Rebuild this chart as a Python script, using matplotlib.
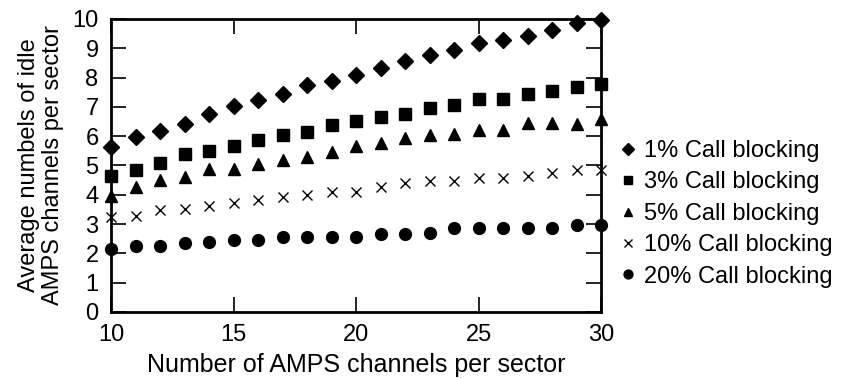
import matplotlib
matplotlib.use("Agg")
import matplotlib.pyplot as plt

plt.rcParams['font.family'] = ['Liberation Sans', 'DejaVu Sans']

# channels per sector
channels = list(range(10, 31))

# idle channels for each blocking level
block_1 = [5.62, 5.96, 6.19, 6.43, 6.77, 7.02, 7.25, 7.44, 7.75, 7.88, 8.08,
           8.32, 8.55, 8.77, 8.95, 9.19, 9.27, 9.43, 9.63, 9.85, 9.98]
block_3 = [4.65, 4.86, 5.09, 5.39, 5.48, 5.65, 5.88, 6.05, 6.15, 6.37, 6.50,
           6.66, 6.74, 6.96, 7.06, 7.26, 7.26, 7.45, 7.54, 7.67, 7.77]
block_5 = [3.95, 4.25, 4.50, 4.60, 4.88, 4.88, 5.05, 5.18, 5.30, 5.45, 5.68,
           5.78, 5.92, 6.03, 6.09, 6.22, 6.20, 6.45, 6.45, 6.43, 6.60]
block_10 = [3.24, 3.27, 3.47, 3.52, 3.63, 3.72, 3.81, 3.91, 4.00, 4.08, 4.10,
            4.26, 4.39, 4.47, 4.47, 4.56, 4.56, 4.64, 4.75, 4.85, 4.85]
block_20 = [2.15, 2.24, 2.24, 2.36, 2.38, 2.47, 2.47, 2.56, 2.56, 2.56, 2.57,
            2.67, 2.67, 2.70, 2.86, 2.86, 2.86, 2.86, 2.86, 2.98, 2.95]

labels = ['1% Call blocking', '3% Call blocking', '5% Call blocking',
          '10% Call blocking', '20% Call blocking']

fig = plt.figure(figsize=(8.48, 3.79), dpi=100)
ax = fig.add_axes([0.131, 0.177, 0.578, 0.773])

kw = dict(linestyle='none', color='black', clip_on=False)
ax.plot(channels, block_1, marker='D', markersize=8.5, label=labels[0], **kw)
ax.plot(channels, block_3, marker='s', markersize=8, label=labels[1], **kw)
ax.plot(channels, block_5, marker='^', markersize=8.5, label=labels[2], **kw)
ax.plot(channels, block_10, marker='x', markersize=7.5, markeredgewidth=1,
        label=labels[3], **kw)
ax.plot(channels, block_20, marker='o', markersize=8.5, label=labels[4], **kw)

ax.set_xlim(10, 30)
ax.set_ylim(0, 10)
ax.set_xticks([10, 15, 20, 25, 30])
ax.set_yticks(range(0, 11))
ax.tick_params(direction='in', top=True, right=True, length=11, width=1.2,
               labelsize=17)
ax.tick_params(axis='x', pad=9)
ax.tick_params(axis='y', pad=9)
for s in ax.spines.values():
    s.set_linewidth(2)

ax.set_xlabel('Number of AMPS channels per sector', fontsize=18, labelpad=5)
ax.set_ylabel('Average numbels of idle\nAMPS channels per sector', fontsize=17,
              labelpad=6, linespacing=1.1)

ax.legend(loc='center left', bbox_to_anchor=(1.0, 0.335), frameon=False,
          fontsize=17, markerscale=0.75, handlelength=0.7, handletextpad=0.3,
          labelspacing=0.4, borderaxespad=0.4)

fig.savefig('out.png', dpi=100)
